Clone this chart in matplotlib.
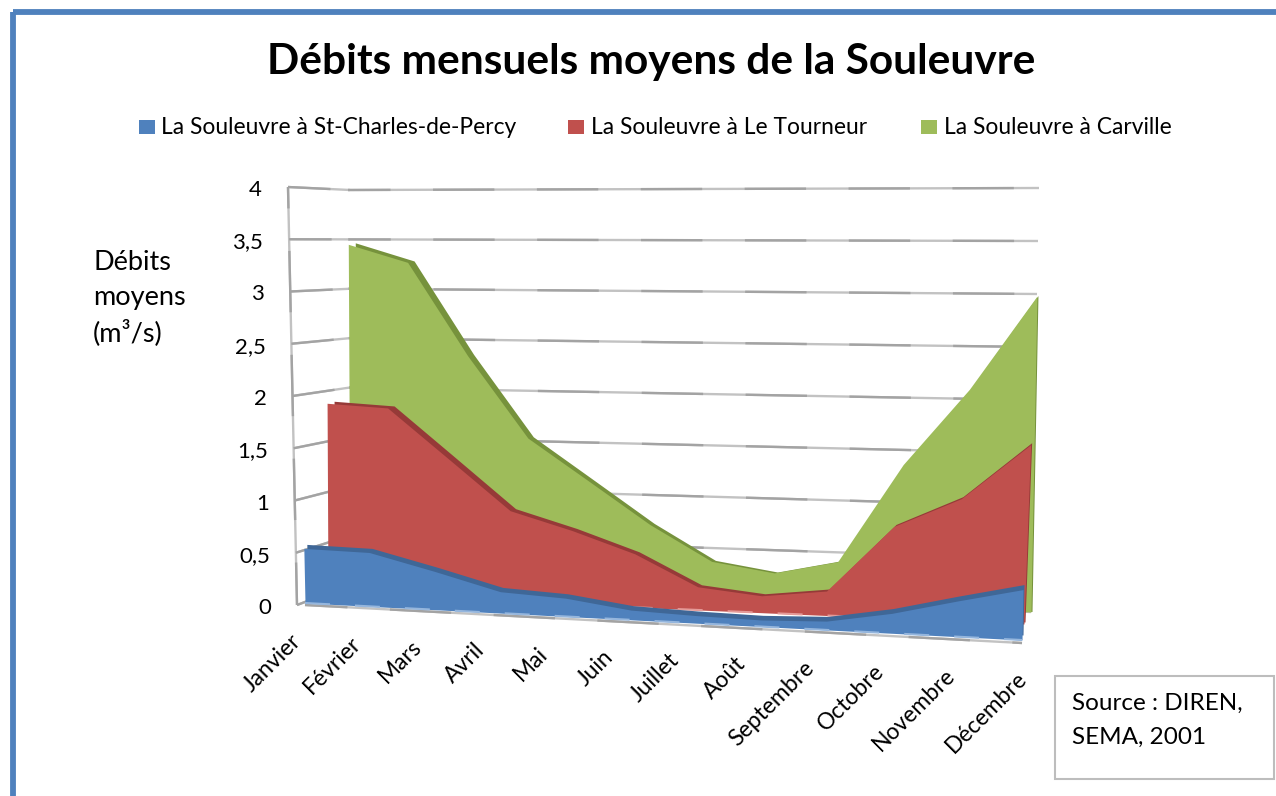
import numpy as np
import matplotlib
matplotlib.use("Agg")
import matplotlib.pyplot as plt
from matplotlib.patches import Rectangle
from matplotlib.transforms import Transform

plt.rcParams['font.family'] = ['Lato', 'DejaVu Sans']

title = "Débits mensuels moyens de la Souleuvre"
months = ["Janvier", "Février", "Mars", "Avril", "Mai", "Juin", "Juillet", "Août",
          "Septembre", "Octobre", "Novembre", "Décembre"]
series_names = ["La Souleuvre à St-Charles-de-Percy", "La Souleuvre à Le Tourneur", "La Souleuvre à Carville"]
percy = [0.52, 0.51, 0.36, 0.20, 0.17, 0.09, 0.07, 0.06, 0.08, 0.18, 0.32, 0.45]
tourneur = [1.87, 1.84, 1.36, 0.88, 0.71, 0.51, 0.22, 0.16, 0.23, 0.86, 1.14, 1.66]
carville = [3.45, 3.27, 2.34, 1.53, 1.12, 0.71, 0.37, 0.28, 0.41, 1.36, 2.09, 2.98]
y_ticks = [0, 0.5, 1, 1.5, 2, 2.5, 3, 3.5, 4]
y_tick_labels = ["0", "0,5", "1", "1,5", "2", "2,5", "3", "3,5", "4"]


class Layer(Transform):
    """Oblique 3D projection of (month index, value) on one depth plane."""
    input_dims = 2
    output_dims = 2

    def __init__(self, bl, tl, br, tr, warp=0.06, shift0=(0, 0), shift1=(0, 0)):
        super().__init__()
        self.c = [np.array(p, float) for p in (bl, tl, br, tr)]
        self.warp = warp
        self.s0, self.s1 = np.array(shift0, float), np.array(shift1, float)

    def transform_non_affine(self, xy):
        xy = np.asarray(xy, float)
        u = xy[:, 0] / 11.0
        ux = (u - self.warp * u * (1 - u))[:, None]
        v = xy[:, 1][:, None] / 4.0
        bl, tl, br, tr = self.c
        base = bl + (br - bl) * ux
        top = tl + (tr - tl) * ux
        return base + (top - base) * v + self.s0 + (self.s1 - self.s0) * ux

    def shifted(self, s0, s1):
        return Layer(*self.c, warp=self.warp, shift0=s0, shift1=s1)


fig = plt.figure(figsize=(12.76, 7.96), dpi=100)
ax = fig.add_axes([0, 0, 1, 1])
ax.set_xlim(0, 1276)
ax.set_ylim(796, 0)
ax.axis('off')
ax.set_autoscale_on(False)
data = ax.transData

# frame
ax.add_patch(Rectangle((10, 9), 1300, 900, fc='white', ec='none', zorder=0))
ax.add_patch(Rectangle((12.5, 12), 1300, 900, fc='none', ec='#4F81BD', lw=4.2, zorder=1))

# depth planes
blue_l = Layer((305, 603), (296, 183), (1022, 640), (1031, 192), warp=0)
red_l = Layer((328, 594), (326, 186), (1024, 624), (1040, 192))
green_l = Layer((350, 585), (348, 190), (1031, 612), (1039, 188))
left_wall = Layer((297, 605), (288, 187), (350, 585), (350, 190), warp=0)
floor = Layer((305, 605), (305, 605), (1022, 643), (1022, 643), warp=0)


def gridline(xs, ys, tr):
    ax.plot(xs, ys, color='#C2C2C2', lw=1.7, transform=tr + data, zorder=2, solid_capstyle='butt')
    ax.plot(xs, ys, color='#A3A3A3', lw=1.7, ls=(8, (26, 18)), transform=tr + data, zorder=2.1)


for v in y_ticks:
    gridline([0, 11], [v, v], left_wall)
    gridline([0, 11], [v, v], green_l)
gridline([0, 0], [0, 4], left_wall)
gridline([0, 11], [0, 0], floor)

x = np.arange(12)
for vals, layer, shift0, shift1, dark, col, base_col, z in [
    (carville, green_l, (7, -1.5), (1, -0.5), '#76923C', '#9EBC5A', None, 3),
    (tourneur, red_l, (7, -2), (1, -2), '#963A38', '#C0504D', '#E59A98', 4),
    (percy, blue_l, (3, -4), (1, -5), '#3F6797', '#4F81BD', '#95B6DD', 5),
]:
    ax.fill_between(x, 0, vals, color=dark, lw=0, transform=layer.shifted(shift0, shift1) + data, zorder=z)
    ax.fill_between(x, 0, vals, color=col, lw=0, transform=layer + data, zorder=z + 0.1)
    if base_col:
        ax.plot(x, np.zeros(12), color=base_col, lw=1.5, ls=(0, (12, 12)),
                transform=layer + data, zorder=z + 0.2)

# value axis labels
pts = left_wall.transform(np.column_stack([np.zeros(9), y_ticks]))
for (px, py), lab in zip(pts, y_tick_labels):
    ax.text(px - 26, py + 3, lab, ha='right', va='center', fontsize=16, color='black', zorder=6)

# month labels
label_line = Layer((290, 630), (290, 630), (1016, 668), (1016, 668), warp=0.1)
pts = label_line.transform(np.column_stack([x, np.zeros(12)]))
for (px, py), lab in zip(pts, months):
    ax.text(px, py, lab, rotation=45, rotation_mode='anchor', ha='right', va='top',
            fontsize=16.5, color='black', zorder=6)

# title
ax.text(651, 62, title, ha='center', va='center', fontsize=30.5, fontweight='bold', color='black', zorder=6)

# legend
for sx, tx, name, col in zip([139, 568, 921], [161, 591, 944], series_names, ['#4F81BD', '#C0504D', '#9EBC5A']):
    ax.add_patch(Rectangle((sx, 120), 16, 14, fc=col, ec='none', zorder=6))
    ax.text(tx, 128, name, ha='left', va='center', fontsize=16.4, color='black', zorder=6)

# axis title
for yy, line in zip([263, 298, 333], ["Débits", "moyens", "(m³/s)"]):
    ax.text(93, yy, line, ha='left', va='center', fontsize=19.5, color='black', zorder=6)

# source box
ax.add_patch(Rectangle((1054.5, 675.5), 219, 103, fc='white', ec='#BDBDBD', lw=1.5, zorder=6))
for yy, line in zip([703, 737], ["Source : DIREN,", "SEMA, 2001"]):
    ax.text(1072, yy, line, ha='left', va='center', fontsize=17.5, color='black', zorder=7)

fig.savefig("out.png", dpi=100)
